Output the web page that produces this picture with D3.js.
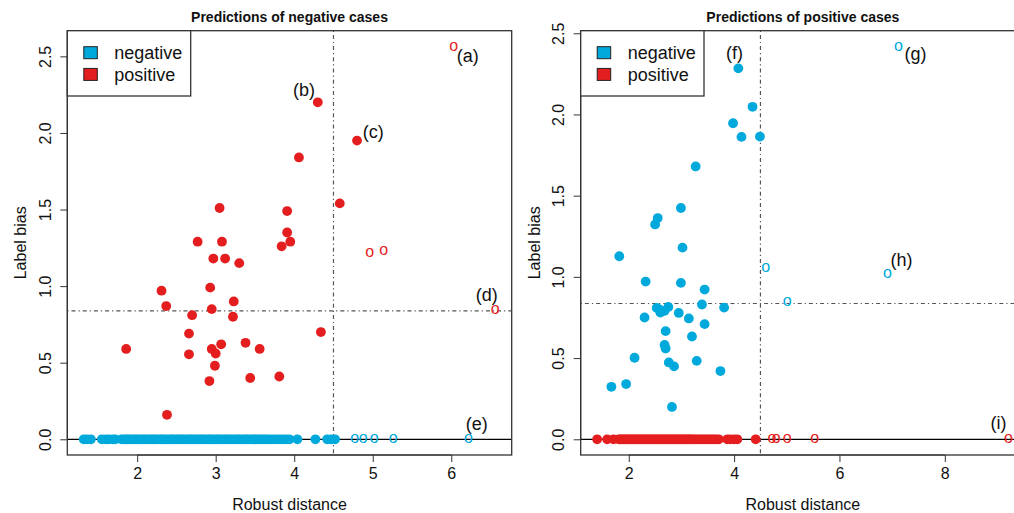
<!DOCTYPE html>
<html><head><meta charset="utf-8">
<script src="https://cdn.jsdelivr.net/npm/d3@7"></script>
<style>
body{margin:0;background:#fff;}
text{font-family:"Liberation Sans",Arial,sans-serif;}
</style></head>
<body><svg id="c" width="1014" height="513"></svg>
<script>
// ---------- DATA ----------
const titles = ["Predictions of negative cases", "Predictions of positive cases"];
const legendLabels = ["negative", "positive"];
const xLabel = "Robust distance";
const yLabel = "Label bias";

// Left panel: positive cases (red) with bias > 0, filled
const leftRedX = [4.30,4.80,4.06,4.58,3.05,3.91,3.91,2.77,3.08,3.95,3.84,2.97,3.12,3.30,
  2.31,2.93,2.37,3.23,2.95,2.70,3.22,4.34,2.66,3.38,3.07,1.86,2.95,3.56,3.00,2.66,2.99,3.44,3.81,2.92,2.38];
const leftRedY = [2.20,1.95,1.84,1.54,1.51,1.49,1.35,1.29,1.29,1.29,1.26,1.18,1.18,1.15,
  0.97,0.99,0.87,0.90,0.85,0.81,0.80,0.70,0.69,0.63,0.62,0.59,0.59,0.59,0.56,0.555,0.48,0.40,0.41,0.38,0.16];
// Left panel: red outliers (open)
const leftRedOpenX = [6.03,4.96,5.14,6.56];
const leftRedOpenY = [2.565,1.215,1.228,0.846];
// Left panel: negative cases (blue) at bias 0, filled
const leftBlueX = [1.32,1.36,1.41,1.55,1.60,1.64,1.69,1.72,
  1.80,1.83,1.86,1.88,1.91,1.94,1.97,1.99,2.02,2.05,2.08,2.10,2.13,2.16,2.19,2.21,2.24,2.27,2.30,2.32,
  2.35,2.38,2.41,2.44,2.46,2.49,2.52,2.55,2.57,2.60,2.63,2.66,2.68,2.71,2.74,2.77,2.80,2.82,2.85,2.88,
  2.91,2.93,2.96,2.99,3.02,3.04,3.07,3.10,3.13,3.15,3.18,3.21,3.24,3.27,3.29,3.32,3.35,3.38,3.40,3.43,
  3.46,3.49,3.51,3.54,3.57,3.60,3.63,3.66,3.70,3.74,3.78,3.82,3.86,3.90,3.94,4.04,
  4.27,4.42,4.47,4.52];
// Left panel: blue outliers at 0 (open)
const leftBlueOpenX = [4.77,4.88,5.02,5.26,6.22];

// Right panel: negative cases (blue) with bias > 0, filled
const rightBlueX = [4.08,4.35,3.98,4.14,4.49,3.27,2.99,2.55,2.50,3.02,1.82,
  2.32,2.99,3.44,3.39,3.81,2.53,2.60,2.68,2.75,2.58,2.95,2.30,3.14,3.44,2.70,3.20,2.68,2.70,
  2.11,3.29,2.76,2.86,3.74,1.95,1.67,2.82];
const rightBlueY = [2.284,2.047,1.946,1.862,1.864,1.680,1.424,1.362,1.323,1.180,1.127,
  0.971,0.963,0.922,0.830,0.811,0.809,0.780,0.791,0.815,0.799,0.778,0.750,0.744,0.709,0.666,0.633,0.581,0.559,
  0.502,0.483,0.473,0.449,0.420,0.340,0.323,0.199];
// Right panel: blue outliers (open)
const rightBlueOpenX = [7.12,4.60,6.91,5.01];
const rightBlueOpenY = [2.419,1.057,1.020,0.846];
// Right panel: positive cases (red) at bias 0, filled
const rightRedX = [1.40,1.59,1.71,
  1.81,1.84,1.87,1.90,1.93,1.96,1.99,2.02,2.05,2.08,2.11,2.14,2.17,2.20,2.23,2.26,2.29,2.32,2.35,2.38,
  2.41,2.44,2.47,2.50,2.53,2.56,2.59,2.62,2.65,2.68,2.71,2.74,2.77,2.80,2.83,2.86,2.89,2.92,2.95,2.98,
  3.01,3.04,3.07,3.10,3.13,3.16,3.19,3.22,3.26,3.30,3.34,3.38,3.42,3.46,3.50,3.54,3.58,3.62,3.66,3.71,
  3.87,3.93,4.00,4.06,4.41];
// Right panel: red outliers at 0 (open)
const rightRedOpenX = [4.72,4.80,5.01,5.53,9.21];

// Threshold lines
const cutX = 4.5;
const cutY = [0.838, 0.836];

// Annotations (text, data x, data y)
const leftNotes = [["(a)",6.21,2.50],["(b)",4.125,2.282],["(c)",5.006,2.005],["(d)",6.453,0.945],["(e)",6.325,0.103]];
const rightNotes = [["(f)",4.007,2.377],["(g)",7.445,2.374],["(h)",7.179,1.102],["(i)",9.021,0.098]];

const xTicksL = [2,3,4,5,6];
const xTicksR = [2,4,6,8];
const yTicksL = [0,0.5,1,1.5,2,2.5];
const yTicksR = [0,0.5,1,1.5,2,2.5];

// ---------- STYLE ----------
const BLUE = "#00A9DB", RED = "#E41E1E";
const svg = d3.select("#c");

function pad(ext){ const d=(ext[1]-ext[0])*0.04; return [ext[0]-d, ext[1]+d]; }

function panel(o){
  const g = svg.append("g");
  const allX = o.filled.flatMap(s=>s.x).concat(o.open.flatMap(s=>s.x));
  const allY = o.filled.flatMap(s=>s.y).concat(o.open.flatMap(s=>s.y));
  const x = d3.scaleLinear().domain(pad(d3.extent(allX))).range([o.left, o.right]);
  const y = d3.scaleLinear().domain(pad(d3.extent(allY))).range([o.bottom, o.top]);

  const cid = "clip"+o.id;
  svg.append("clipPath").attr("id",cid).append("rect")
    .attr("x",o.left).attr("y",o.top).attr("width",o.right-o.left).attr("height",o.bottom-o.top);
  const inner = g.append("g").attr("clip-path",`url(#${cid})`);

  inner.append("line").attr("x1",o.left).attr("x2",o.right).attr("y1",y(0)).attr("y2",y(0))
    .attr("stroke","#000").attr("stroke-width",1.2);
  inner.append("line").attr("x1",x(cutX)).attr("x2",x(cutX)).attr("y1",o.top).attr("y2",o.bottom)
    .attr("stroke","#555").attr("stroke-width",1.2).attr("stroke-dasharray","1.2,3,4,3");
  inner.append("line").attr("x1",o.left).attr("x2",o.right).attr("y1",y(o.cutY)).attr("y2",y(o.cutY))
    .attr("stroke","#555").attr("stroke-width",1.2).attr("stroke-dasharray","1.2,3,4,3");

  o.filled.forEach(s=>{
    const pts = s.x.map((v,i)=>[v, s.y[i]]);
    inner.append("g").selectAll("circle").data(pts).join("circle")
      .attr("cx",d=>x(d[0])).attr("cy",d=>y(d[1])).attr("r",4.9).attr("fill",s.color);
  });
  o.open.forEach(s=>{
    const pts = s.x.map((v,i)=>[v, s.y[i]]);
    inner.append("g").selectAll("text").data(pts).join("text")
      .attr("x",d=>x(d[0])).attr("y",d=>y(d[1])+4.2).attr("text-anchor","middle")
      .attr("font-size",16).attr("fill",s.color).text("o");
  });
  g.append("g").selectAll("text").data(o.notes).join("text")
    .attr("x",d=>x(d[1])).attr("y",d=>y(d[2])+6).attr("text-anchor","middle")
    .attr("font-size",18).attr("fill","#111").text(d=>d[0]);

  g.append("rect").attr("x",o.left).attr("y",o.top).attr("width",o.right-o.left).attr("height",o.bottom-o.top)
    .attr("fill","none").attr("stroke","#333").attr("stroke-width",1.3);

  const xa = g.append("g").attr("transform",`translate(0,${o.bottom})`)
    .call(d3.axisBottom(x).tickValues(o.xTicks).tickFormat(d3.format("d")).tickSize(7).tickPadding(6));
  xa.select(".domain").attr("d",`M${x(o.xTicks[0])},0H${x(o.xTicks[o.xTicks.length-1])}`).attr("stroke","#333");
  xa.selectAll("line").attr("stroke","#333");
  xa.selectAll("text").attr("font-size",16).attr("font-family","Liberation Sans, Arial, sans-serif").attr("fill","#111");

  const ya = g.append("g").attr("transform",`translate(${o.left},0)`)
    .call(d3.axisLeft(y).tickValues(o.yTicks).tickFormat(d3.format(".1f")).tickSize(7));
  ya.select(".domain").attr("d",`M0,${y(o.yTicks[0])}V${y(o.yTicks[o.yTicks.length-1])}`).attr("stroke","#333");
  ya.selectAll("line").attr("stroke","#333");
  ya.selectAll("text")
    .attr("font-size",16).attr("font-family","Liberation Sans, Arial, sans-serif").attr("fill","#111")
    .attr("x",null).attr("dy",null).attr("text-anchor","middle")
    .attr("transform",`translate(-16.8,0) rotate(-90)`).attr("y",0);

  g.append("text").attr("x",(o.left+o.right)/2).attr("y",22).attr("text-anchor","middle")
    .attr("font-size",14).attr("font-weight","bold").attr("fill","#111").text(o.title);
  g.append("text").attr("x",o.titleCenter).attr("y",510).attr("text-anchor","middle")
    .attr("font-size",16).attr("fill","#111").text(xLabel);
  g.append("text").attr("transform",`translate(${o.left-41},${(o.top+o.bottom)/2}) rotate(-90)`)
    .attr("text-anchor","middle").attr("font-size",16).attr("fill","#111").text(yLabel);

  const lg = g.append("g");
  lg.append("rect").attr("x",o.left).attr("y",o.top).attr("width",o.legW).attr("height",96-o.top)
    .attr("fill","#fff").attr("stroke","#333").attr("stroke-width",1.3);
  [BLUE,RED].forEach((c,i)=>{
    lg.append("rect").attr("x",o.left+16.5).attr("y",o.top+16+i*21.7).attr("width",13.5).attr("height",12)
      .attr("fill",c).attr("stroke","#222").attr("stroke-width",1);
    lg.append("text").attr("x",o.left+o.legTextDx).attr("y",o.top+28.5+i*21.7)
      .attr("font-size",18).attr("fill","#111").text(legendLabels[i]);
  });
}

panel({id:"L", left:67.3, right:511.7, top:30.7, bottom:455, cutY:cutY[0],
  title:titles[0], titleCenter:(67.3+511.7)/2,
  filled:[{x:leftRedX,y:leftRedY,color:RED},{x:leftBlueX,y:leftBlueX.map(()=>0),color:BLUE}],
  open:[{x:leftRedOpenX,y:leftRedOpenY,color:RED},{x:leftBlueOpenX,y:leftBlueOpenX.map(()=>0),color:BLUE}],
  notes:leftNotes, xTicks:xTicksL, yTicks:yTicksL, legW:123.4, legTextDx:47});

panel({id:"R", left:580.7, right:1025, top:30.7, bottom:455, cutY:cutY[1],
  title:titles[1], titleCenter:(580.7+1025)/2,
  filled:[{x:rightBlueX,y:rightBlueY,color:BLUE},{x:rightRedX,y:rightRedX.map(()=>0),color:RED}],
  open:[{x:rightBlueOpenX,y:rightBlueOpenY,color:BLUE},{x:rightRedOpenX,y:rightRedOpenX.map(()=>0),color:RED}],
  notes:rightNotes, xTicks:xTicksR, yTicks:yTicksR, legW:123.3, legTextDx:47});
</script></body></html>
